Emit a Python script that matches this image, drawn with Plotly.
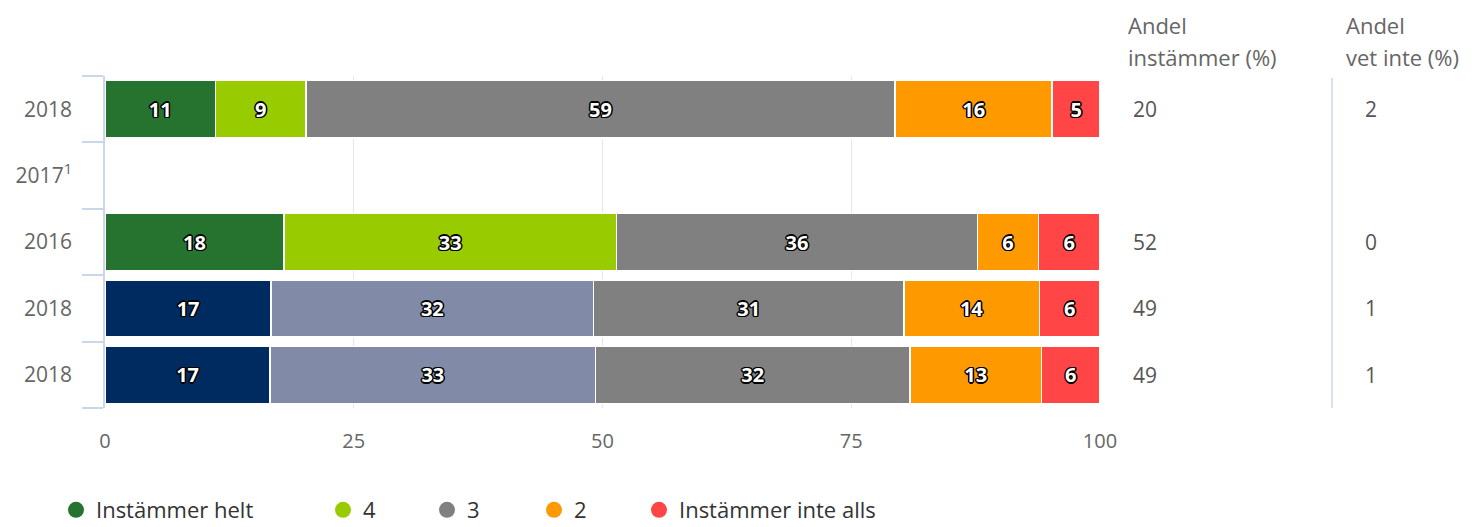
import plotly.graph_objects as go

# rows, top to bottom
years = ["2018", "2017<sup>1</sup>", "2016", "2018", "2018"]
rows = list(range(len(years)))

series_names = ["Instämmer helt", "4", "3", "2", "Instämmer inte alls"]
helt = [11.1, None, 18.0, 16.7, 16.6]
four = [9.1, None, 33.4, 32.4, 32.7]
three = [59.2, None, 36.3, 31.2, 31.6]
two = [15.8, None, 6.1, 13.6, 13.2]
inte_alls = [4.8, None, 6.2, 6.1, 5.9]

andel_instammer = [20, None, 52, 49, 49]
andel_vet_inte = [2, None, 0, 1, 1]

GREEN = "#267330"
LIGHT_GREEN = "#99cc00"
NAVY = "#002b60"
SLATE = "#818aa6"
GREY = "#808080"
ORANGE = "#ff9900"
RED = "#ff4545"

series_colors = [
    [GREEN, GREEN, GREEN, NAVY, NAVY],
    [LIGHT_GREEN, LIGHT_GREEN, LIGHT_GREEN, SLATE, SLATE],
    [GREY] * 5,
    [ORANGE] * 5,
    [RED] * 5,
]
legend_colors = [GREEN, LIGHT_GREEN, GREY, ORANGE, RED]

FONT = "Open Sans"
OUTLINE = ("-1px -1px 0 #000, 1px -1px 0 #000, -1px 1px 0 #000, 1px 1px 0 #000, "
           "0 1.5px 0 #000, 0 -1.5px 0 #000, 1.5px 0 0 #000, -1.5px 0 0 #000")

# the page body has an 8px margin, so work in page pixels and shift
OFF = 8
W, H = 1475 - OFF, 527 - OFF
L, R, T, B = 105, 1100, 76, 408  # plot area on the page


def px_x(px):
    return (px - L) / (R - L)


def px_y(py):
    return (B - py) / (B - T)


fig = go.Figure()
values = [helt, four, three, two, inte_alls]
for name, vals, cols in zip(series_names, values, series_colors):
    fig.add_trace(
        go.Bar(
            x=vals,
            y=rows,
            orientation="h",
            marker=dict(color=cols, line=dict(color="white", width=1.5)),
            texttemplate="%{x:.0f}",
            textposition="inside",
            insidetextanchor="middle",
            textangle=0,
            textfont=dict(family=FONT, size=20, color="white", weight="bold", shadow=OUTLINE),
            showlegend=False,
            hoverinfo="skip",
        )
    )

# legend entries as round markers, one legend each so spacing can follow the original
legend_text_x = [97, 364, 468, 575, 680]
for i, (name, col) in enumerate(zip(series_names, legend_colors)):
    key = "legend" if i == 0 else f"legend{i + 1}"
    fig.add_trace(
        go.Scatter(
            x=[None],
            y=[None],
            mode="markers",
            name=name,
            marker=dict(symbol="circle", size=22, color=col),
            legend=key,
            showlegend=True,
        )
    )
    fig.update_layout(
        {
            key: dict(
                x=px_x(legend_text_x[i] - 41),
                y=px_y(510),
                xanchor="left",
                yanchor="middle",
                orientation="h",
                font=dict(family=FONT, size=22, color="#333333"),
                bgcolor="rgba(0,0,0,0)",
                itemsizing="trace",
            )
        }
    )

# right-hand columns
headers = [("Andel", "instämmer (%)", 1126), ("Andel", "vet inte (%)", 1344)]
for line1, line2, hx in headers:
    for txt, hy in ((line1, 25), (line2, 57)):
        fig.add_annotation(
            x=px_x(hx), y=px_y(hy), xref="paper", yref="paper",
            text=txt, showarrow=False, xanchor="left", yanchor="middle",
            font=dict(family=FONT, size=22, color="#666666"),
        )

for col_vals, vx in ((andel_instammer, 1131), (andel_vet_inte, 1363)):
    for r, v in zip(rows, col_vals):
        if v is None:
            continue
        fig.add_annotation(
            x=px_x(vx), y=r, xref="paper", yref="y",
            text=str(v), showarrow=False, xanchor="left", yanchor="middle",
            font=dict(family=FONT, size=21, color="#555555"),
        )

fig.add_shape(
    type="line", xref="paper", yref="paper",
    x0=px_x(1332), x1=px_x(1332), y0=px_y(78), y1=0,
    line=dict(color="#ccd6eb", width=1.5),
)

fig.update_layout(
    width=W,
    height=H,
    barmode="stack",
    bargap=0.14,
    margin=dict(l=L - OFF, r=W - (R - OFF), t=T - OFF, b=H - (B - OFF), autoexpand=False),
    plot_bgcolor="white",
    paper_bgcolor="white",
    xaxis=dict(
        range=[0, 100],
        tickvals=[0, 25, 50, 75, 100],
        showgrid=True,
        gridcolor="#e6e6e6",
        gridwidth=1,
        zeroline=False,
        ticks="",
        ticklabelstandoff=19,
        tickfont=dict(family=FONT, size=20, color="#666666"),
        fixedrange=True,
    ),
    yaxis=dict(
        type="category",
        autorange="reversed",
        tickvals=rows,
        ticktext=years,
        tickson="boundaries",
        ticks="outside",
        ticklen=21,
        tickcolor="#ccd6eb",
        tickwidth=1.5,
        showline=True,
        linecolor="#ccd6eb",
        linewidth=1.5,
        showgrid=False,
        ticklabelstandoff=27,
        tickfont=dict(family=FONT, size=21, color="#666666"),
        fixedrange=True,
    ),
)

fig.write_html("out.html")
